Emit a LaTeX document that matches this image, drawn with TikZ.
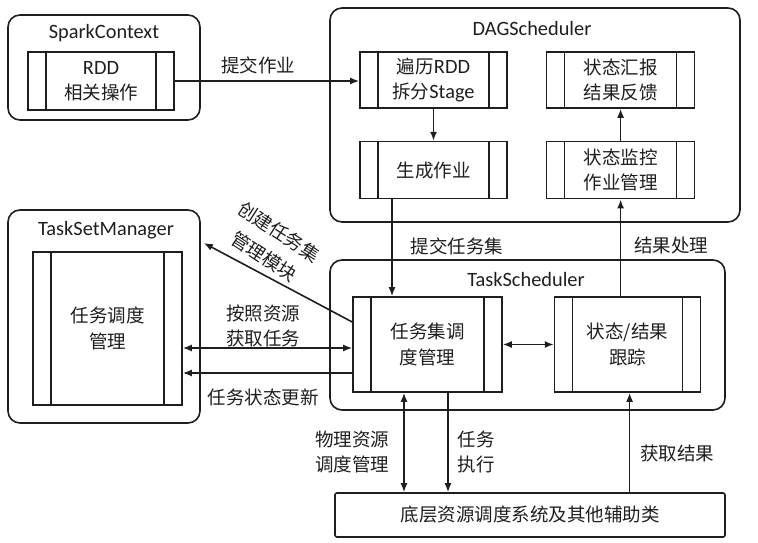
\documentclass[tikz,border=0pt]{standalone}
\usepackage{fontspec}
\setmainfont{Noto Sans CJK SC}
\newfontfamily\lat[Scale=1.1]{Carlito}
\usetikzlibrary{shapes,arrows.meta,positioning}
\definecolor{ink}{HTML}{1E1E1E}
\tikzstyle{frame} = [draw=ink, rounded corners=12pt, line width=1.6pt, inner sep=0pt]
\tikzstyle{proc} = [rectangle, draw=ink, line width=1.6pt, text=ink, text centered, align=center, inner sep=0pt,
	path picture={\draw[ink, line width=1.6pt]
		([xshift=18pt]path picture bounding box.north west) -- ([xshift=18pt]path picture bounding box.south west)
		([xshift=-18pt]path picture bounding box.north east) -- ([xshift=-18pt]path picture bounding box.south east);}]
\tikzstyle{line} = [draw=ink, line width=1.6pt, -{Latex[length=9pt,width=7pt]}]
\tikzstyle{both} = [draw=ink, line width=1.6pt, {Latex[length=9pt,width=7pt]}-{Latex[length=9pt,width=7pt]}]
\tikzstyle{lbl} = [text=ink, align=center, inner sep=1pt]

\begin{document}
\begin{tikzpicture}[x=1pt, y=-1pt, font=\fontsize{18.5}{25.5}\selectfont]
	\useasboundingbox (0,0) rectangle (758,543);

	% SparkContext
	\node[frame, minimum width=192pt, minimum height=105pt] (spark) at (104,67.5) {};
	\node[lbl] (sparktitle) at (104,33) {\lat SparkContext};
	\node[proc, minimum width=146pt, minimum height=58pt] (rdd) at (101,81) {{\lat RDD}\\相关操作};

	% DAGScheduler
	\node[frame, minimum width=410pt, minimum height=214pt] (dag) at (535,115) {};
	\node[lbl] (dagtitle) at (532,29) {\lat DAGScheduler};
	\node[proc, minimum width=147pt, minimum height=56pt] (split) at (433.5,80) {遍历{\lat RDD}\\拆分{\lat Stage}};
	\node[proc, minimum width=148pt, minimum height=56pt, right=38pt of split] (report) {状态汇报\\结果反馈};
	\node[proc, minimum width=147pt, minimum height=57pt, below=32pt of split] (genjob) {生成作业};
	\node[proc, minimum width=148pt, minimum height=57pt, below=32pt of report] (monitor) {状态监控\\作业管理};

	% TaskSetManager
	\node[frame, minimum width=192pt, minimum height=213pt] (tsm) at (104,316.5) {};
	\node[lbl] (tsmtitle) at (106,230) {\lat TaskSetManager};
	\node[proc, minimum width=149pt, minimum height=153pt] (tsmcore) at (107.5,328.5) {任务调度\\管理};

	% TaskScheduler
	\node[frame, minimum width=395pt, minimum height=150pt] (ts) at (527.5,335) {};
	\node[lbl] (tstitle) at (526,280) {\lat TaskScheduler};
	\node[proc, minimum width=149pt, minimum height=95pt] (dispatch) at (427.5,344.5) {任务集调\\度管理};
	\node[proc, minimum width=146pt, minimum height=95pt, right=51pt of dispatch] (track) {状态/结果\\跟踪};

	\node[draw=ink, line width=1.6pt, rounded corners=2pt, minimum width=390pt, minimum height=44pt, lbl] (base) at (530,515) {底层资源调度系统及其他辅助类};

	\path [line] (rdd.east) -- (rdd.east -| split.west);
	\path [line] (split) -- (genjob);
	\path [line] (monitor) -- (report);
	\path [line] ([xshift=-41.5pt]genjob.south) -- ([xshift=-41.5pt]genjob.south |- dispatch.north);
	\path [line] (monitor.south |- track.north) -- (monitor.south);
	\path [line] ([yshift=22.5pt]dispatch.west) -- ([xshift=3pt,yshift=73.5pt]tsm.east);
	\path [both] ([yshift=-3.5pt]dispatch.west) -- ([yshift=-3.5pt]dispatch.west -| tsmcore.east);
	\path [line] ([yshift=-28.5pt]dispatch.west) -- ([yshift=-28.5pt]dispatch.west -| tsmcore.east);
	\path [both] (dispatch) -- (track);
	\path [both] ([xshift=-23.5pt]dispatch.south) -- ([xshift=-23.5pt]dispatch.south |- base.north);
	\path [line] ([xshift=20.5pt]dispatch.south) -- ([xshift=20.5pt]dispatch.south |- base.north);
	\path [line] ([xshift=2pt]track.south |- base.north) -- ([xshift=2pt]track.south);

	\node[lbl] (lsubmit) at (258,65) {提交作业};
	\node[lbl] (ltaskset) at (457,246) {提交任务集};
	\node[lbl] (lresult) at (671,245) {结果处理};
	\node[lbl, rotate=-33] (lcreate) at (279,232) {创建任务集};
	\node[lbl, rotate=-33] (lcreatemod) at (264,257) {管理模块};
	\node[lbl] (lfetch) at (263,326) {按照资源\\获取任务};
	\node[lbl] (lupdate) at (263,397) {任务状态更新};
	\node[lbl] (lphys) at (352,452) {物理资源\\调度管理};
	\node[lbl] (lexec) at (476,452) {任务\\执行};
	\node[lbl] (lget) at (677,453) {获取结果};
\end{tikzpicture}
\end{document}
